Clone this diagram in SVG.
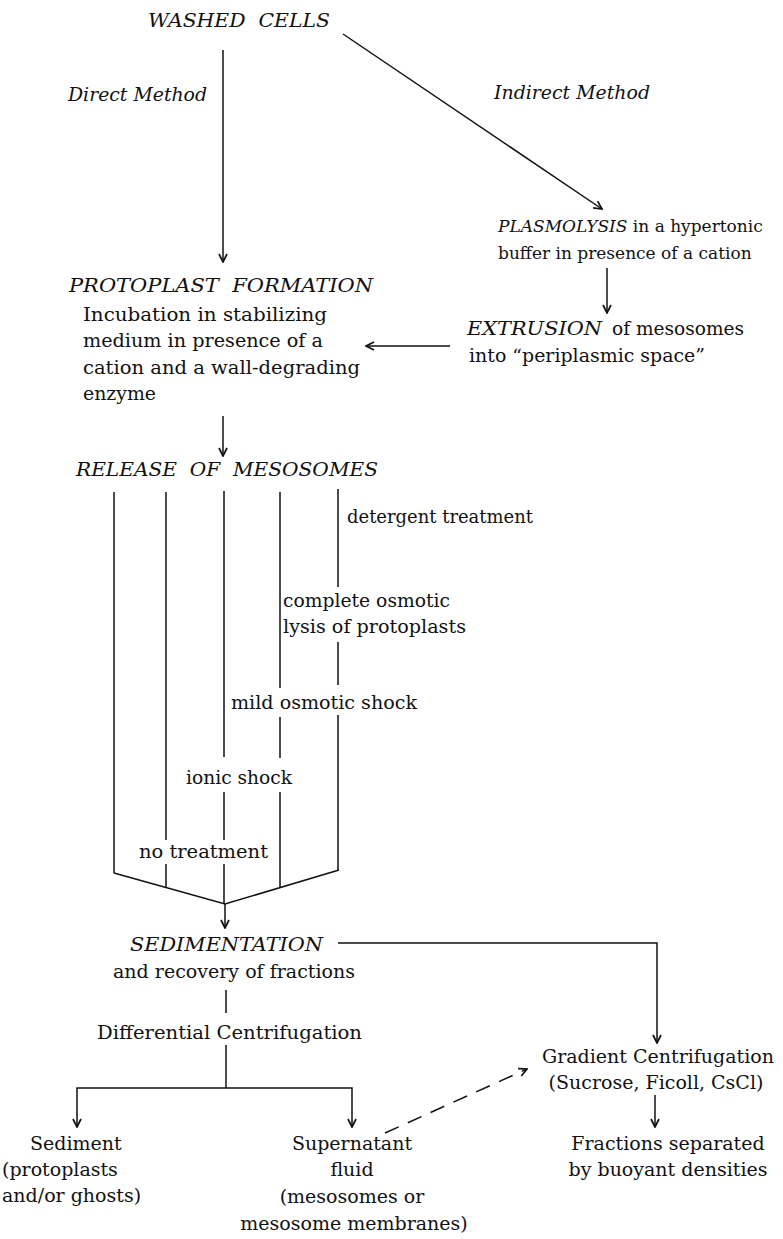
<svg xmlns="http://www.w3.org/2000/svg" width="783" height="1239" viewBox="0 0 783 1239">
<style>
text{font-family:"DejaVu Serif","Liberation Serif",serif;font-size:19px;fill:#111}
.it{font-style:italic}
.c{text-anchor:middle}
.sm{font-size:17px}
.ln{stroke:#111;stroke-width:1.5;fill:none}
.ar{marker-end:url(#ah)}
.dash{stroke-dasharray:15 10}
</style>
<defs>
<marker id="ah" viewBox="0 0 10 10" refX="9" refY="5" markerWidth="10" markerHeight="10" markerUnits="userSpaceOnUse" orient="auto">
<path d="M1,1 L9,5 L1,9" fill="none" stroke="#111" stroke-width="1.7"/>
</marker>
</defs>
<rect width="783" height="1239" fill="#fff"/>
<g id="connectors">
<line class="ln ar" x1="223" y1="50" x2="223" y2="262"/>
<line class="ln ar" x1="343" y1="34" x2="602" y2="209"/>
<line class="ln ar" x1="607" y1="268" x2="607" y2="313"/>
<line class="ln ar" x1="450" y1="346" x2="366" y2="346"/>
<line class="ln ar" x1="223" y1="416" x2="223" y2="456"/>
<line class="ln" x1="114" y1="492" x2="114" y2="873"/>
<line class="ln" x1="166" y1="492" x2="166" y2="840"/>
<line class="ln" x1="166" y1="864" x2="166" y2="888"/>
<line class="ln" x1="224" y1="491" x2="224" y2="757"/>
<line class="ln" x1="224" y1="792" x2="224" y2="840"/>
<line class="ln" x1="224" y1="864" x2="224" y2="904"/>
<line class="ln" x1="280" y1="492" x2="280" y2="688"/>
<line class="ln" x1="280" y1="717" x2="280" y2="758"/>
<line class="ln" x1="280" y1="792" x2="280" y2="888"/>
<line class="ln" x1="338" y1="489" x2="338" y2="587"/>
<line class="ln" x1="338" y1="642" x2="338" y2="685"/>
<line class="ln" x1="338" y1="715" x2="338" y2="870"/>
<polyline class="ln" points="114,873 225,904 339,870"/>
<line class="ln ar" x1="225" y1="904" x2="225" y2="928"/>
<polyline class="ln ar" points="338,943 657,943 657,1043"/>
<line class="ln" x1="226" y1="990" x2="226" y2="1013"/>
<line class="ln" x1="226" y1="1045" x2="226" y2="1088"/>
<polyline class="ln ar" points="226,1088 77,1088 77,1127"/>
<polyline class="ln ar" points="226,1088 352,1088 352,1127"/>
<line class="ln ar dash" x1="385" y1="1133" x2="527" y2="1069"/>
<line class="ln ar" x1="655" y1="1095" x2="655" y2="1127"/>
</g>
<g id="washed"><text class="it" x="148" y="27" font-size="20" textLength="182" lengthAdjust="spacingAndGlyphs" word-spacing="6">WASHED CELLS</text></g>
<g id="direct-label"><text class="it" x="68" y="101" textLength="139" lengthAdjust="spacingAndGlyphs">Direct Method</text></g>
<g id="indirect-label"><text class="it" x="494" y="99" textLength="156" lengthAdjust="spacingAndGlyphs">Indirect Method</text></g>
<g id="plasmolysis">
<text class="sm" x="498" y="232"><tspan class="it">PLASMOLYSIS</tspan> in a hypertonic</text>
<text class="sm" x="498" y="259">buffer in presence of a cation</text>
</g>
<g id="protoplast">
<text class="it" x="69" y="292" textLength="304" lengthAdjust="spacingAndGlyphs" word-spacing="6">PROTOPLAST FORMATION</text>
<text x="83" y="321" textLength="244" lengthAdjust="spacingAndGlyphs">Incubation in stabilizing</text>
<text x="83" y="347" textLength="240" lengthAdjust="spacingAndGlyphs">medium in presence of a</text>
<text x="83" y="374" textLength="277" lengthAdjust="spacingAndGlyphs">cation and a wall-degrading</text>
<text x="83" y="400" textLength="73" lengthAdjust="spacingAndGlyphs">enzyme</text>
</g>
<g id="extrusion">
<text class="it" x="467" y="335" textLength="135" lengthAdjust="spacingAndGlyphs">EXTRUSION</text>
<text x="612" y="335" textLength="132" lengthAdjust="spacingAndGlyphs">of mesosomes</text>
<text x="469" y="362" textLength="236" lengthAdjust="spacingAndGlyphs">into “periplasmic space”</text>
</g>
<g id="release"><text class="it" x="76" y="476" textLength="302" lengthAdjust="spacingAndGlyphs" word-spacing="6">RELEASE OF MESOSOMES</text></g>
<g id="detergent"><text x="347" y="523" textLength="186" lengthAdjust="spacingAndGlyphs">detergent treatment</text></g>
<g id="complete">
<text x="283" y="607" textLength="167" lengthAdjust="spacingAndGlyphs">complete osmotic</text>
<text x="283" y="633" textLength="183" lengthAdjust="spacingAndGlyphs">lysis of protoplasts</text>
</g>
<g id="mild"><text x="231" y="709" textLength="186" lengthAdjust="spacingAndGlyphs">mild osmotic shock</text></g>
<g id="ionic"><text x="186" y="784" textLength="106" lengthAdjust="spacingAndGlyphs">ionic shock</text></g>
<g id="notreat"><text x="139" y="858" textLength="129" lengthAdjust="spacingAndGlyphs">no treatment</text></g>
<g id="sedimentation">
<text class="it" x="130" y="951" textLength="193" lengthAdjust="spacingAndGlyphs">SEDIMENTATION</text>
<text x="113" y="978" textLength="242" lengthAdjust="spacingAndGlyphs">and recovery of fractions</text>
</g>
<g id="differential"><text x="97" y="1039" textLength="265" lengthAdjust="spacingAndGlyphs">Differential Centrifugation</text></g>
<g id="gradient">
<text class="c" x="658" y="1063">Gradient Centrifugation</text>
<text class="c" x="656" y="1089">(Sucrose, Ficoll, CsCl)</text>
</g>
<g id="fractions">
<text class="c" x="668" y="1150">Fractions separated</text>
<text class="c" x="668" y="1176">by buoyant densities</text>
</g>
<g id="sediment">
<text x="30" y="1150">Sediment</text>
<text x="2" y="1176">(protoplasts</text>
<text x="2" y="1202">and/or ghosts)</text>
</g>
<g id="supernatant">
<text class="c" x="352" y="1150">Supernatant</text>
<text class="c" x="352" y="1176">fluid</text>
<text class="c" x="352" y="1203">(mesosomes or</text>
<text class="c" x="354" y="1230">mesosome membranes)</text>
</g>
</svg>
